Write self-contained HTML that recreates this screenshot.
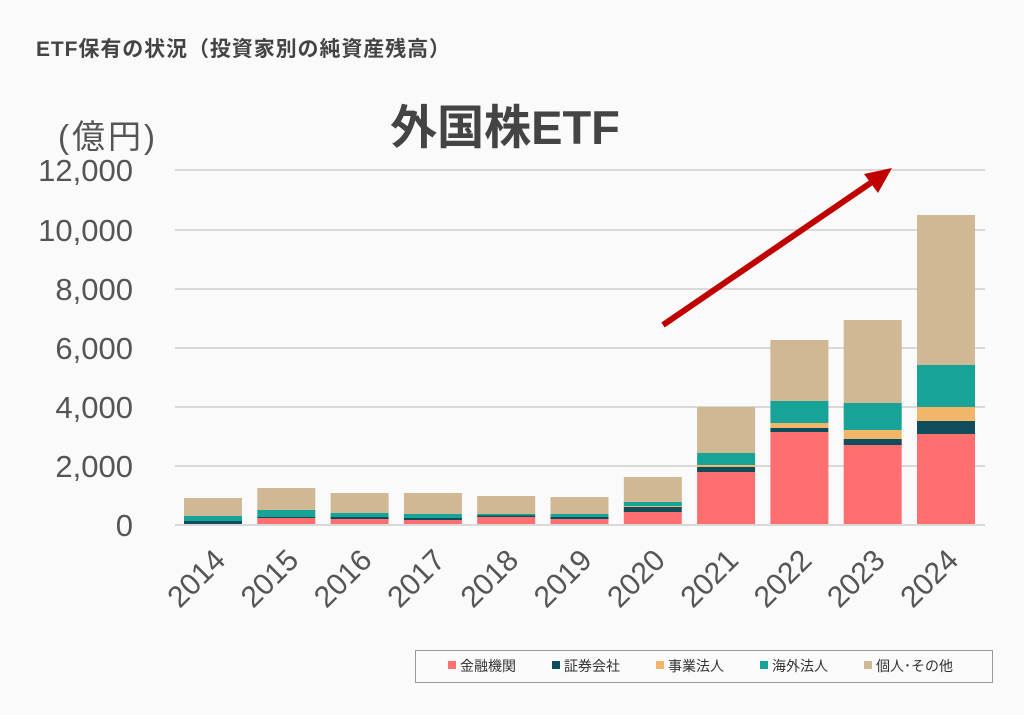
<!DOCTYPE html>
<html><head><meta charset="utf-8"><style>
body{margin:0;background:#fafafa;}
svg text{font-family:"Liberation Sans","Noto Sans CJK JP",sans-serif;}
</style></head><body>
<svg width="1024" height="710" viewBox="0 0 1024 710" xmlns="http://www.w3.org/2000/svg">
<rect width="1024" height="710" fill="#fafafa"/>
<text x="36" y="56" font-size="21" font-weight="bold" fill="#444" textLength="414">ETF保有の状況（投資家別の純資産残高）</text>
<text x="505" y="144" font-size="47" font-weight="bold" fill="#444" text-anchor="middle">外国株ETF</text>
<text x="58" y="148" font-size="33" fill="#555" textLength="97">(億円)</text>
<g stroke="#d9d9d9" stroke-width="2">
<line x1="175" x2="985" y1="170" y2="170"/><line x1="175" x2="985" y1="230" y2="230"/>
<line x1="175" x2="985" y1="289" y2="289"/><line x1="175" x2="985" y1="348" y2="348"/>
<line x1="175" x2="985" y1="407" y2="407"/><line x1="175" x2="985" y1="466" y2="466"/>
<line x1="175" x2="985" y1="525" y2="525"/>
</g>
<g font-size="31" fill="#555" text-anchor="end">
<text x="133" y="181">12,000</text><text x="133" y="241">10,000</text>
<text x="133" y="300">8,000</text><text x="133" y="359">6,000</text>
<text x="133" y="418">4,000</text><text x="133" y="477">2,000</text>
<text x="133" y="536">0</text>
</g>
<g id="bars"></g>
<line x1="663" y1="325" x2="872" y2="182" stroke="#c00000" stroke-width="6"/>
<polygon points="892,168 864,174 878,193" fill="#c00000"/>
<g font-size="30" fill="#555" text-anchor="end" id="xl"></g>
<rect x="415.5" y="650.5" width="577" height="32" fill="#fafafa" stroke="#999"/>
<g font-size="14" fill="#333">
<rect x="448" y="661" width="8" height="8" fill="#ff6f6f"/><text x="460" y="671">金融機関</text>
<rect x="552" y="661" width="8" height="8" fill="#0f4c5c"/><text x="564" y="671">証券会社</text>
<rect x="656" y="661" width="8" height="8" fill="#f2b66a"/><text x="668" y="671">事業法人</text>
<rect x="760" y="661" width="8" height="8" fill="#17a398"/><text x="772" y="671">海外法人</text>
<rect x="864" y="661" width="8" height="8" fill="#d0b894"/><text x="876" y="671">個人･その他</text>
</g>
<script>
var d=[[524,521,521,516,498],[518,517,517,510,488],[519,517,517,513,493],[520,518,518,514,493],[517,515.5,515.5,514,496],[519,517,517,514,497],[512,507,506,502,477],[472,467,465,453,407],[432,428,423,401,340],[445,439,430,403,320],[434,421,407,365,215]];
var c=["#ff6f6f","#0f4c5c","#f2b66a","#17a398","#d0b894"];
var ns="http://www.w3.org/2000/svg",g=document.getElementById("bars"),xl=document.getElementById("xl");
d.forEach(function(t,i){var x=184+i*73.3,prev=524;
for(var k=0;k<5;k++){var r=document.createElementNS(ns,"rect");r.setAttribute("x",x);r.setAttribute("width",58);r.setAttribute("y",t[k]);r.setAttribute("height",Math.max(0,prev-t[k]));r.setAttribute("fill",c[k]);g.appendChild(r);prev=t[k];}
var tx=document.createElementNS(ns,"text");var cx=x+43,cy=562;tx.setAttribute("x",cx);tx.setAttribute("y",cy);tx.setAttribute("transform","rotate(-45 "+cx+" "+cy+")");tx.textContent=2014+i;xl.appendChild(tx);});
</script>
</svg>
</body></html>
